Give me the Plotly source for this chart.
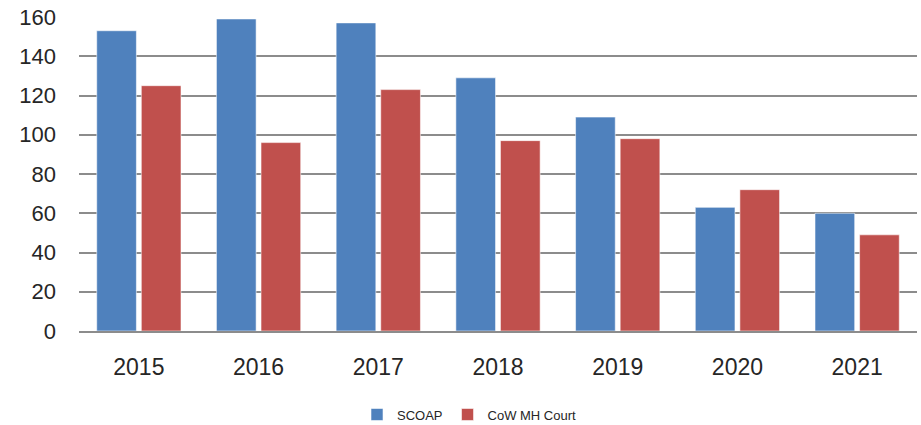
import plotly.graph_objects as go

years = ["2015", "2016", "2017", "2018", "2019", "2020", "2021"]
scoap = [153, 159, 157, 129, 109, 63, 60]
cow_mh_court = [125, 96, 123, 97, 98, 72, 49]
y_ticks = [0, 20, 40, 60, 80, 100, 120, 140, 160]

fig = go.Figure()
fig.add_trace(go.Bar(
    x=years, y=scoap, name="SCOAP",
    marker=dict(color="#4F81BD", line=dict(color="rgba(255,255,255,0.55)", width=1)),
))
fig.add_trace(go.Bar(
    x=years, y=cow_mh_court, name="CoW MH Court",
    marker=dict(color="#C0504D", line=dict(color="rgba(255,255,255,0.55)", width=1)),
))

fig.update_layout(
    width=921, height=425,
    margin=dict(l=79, r=4, t=17, b=94, autoexpand=False),
    paper_bgcolor="white", plot_bgcolor="white",
    barmode="group", bargap=0.255, bargroupgap=0.11,
    font=dict(family="Liberation Sans, Arial, sans-serif", color="#262626"),
    showlegend=True,
    legend=dict(
        orientation="h",
        x=0.466, xanchor="center", y=-0.266, yanchor="middle",
        font=dict(size=13, color="#262626"),
        itemwidth=30, traceorder="normal",
    ),
    xaxis=dict(
        showgrid=False, showline=True, linecolor="#8C8C8C", linewidth=2,
        tickfont=dict(size=23), ticks="", ticklabelstandoff=14, automargin=False,
    ),
    yaxis=dict(
        range=[0, 160], tickvals=y_ticks, showgrid=True,
        gridcolor="#8C8C8C", gridwidth=2, zeroline=False,
        tickfont=dict(size=22), ticks="", ticklabelstandoff=22, automargin=False,
    ),
)

fig.write_html(
    "out.html",
    config={"displayModeBar": False},
    post_script="document.body.style.margin='0';document.body.style.overflow='hidden';",
)
